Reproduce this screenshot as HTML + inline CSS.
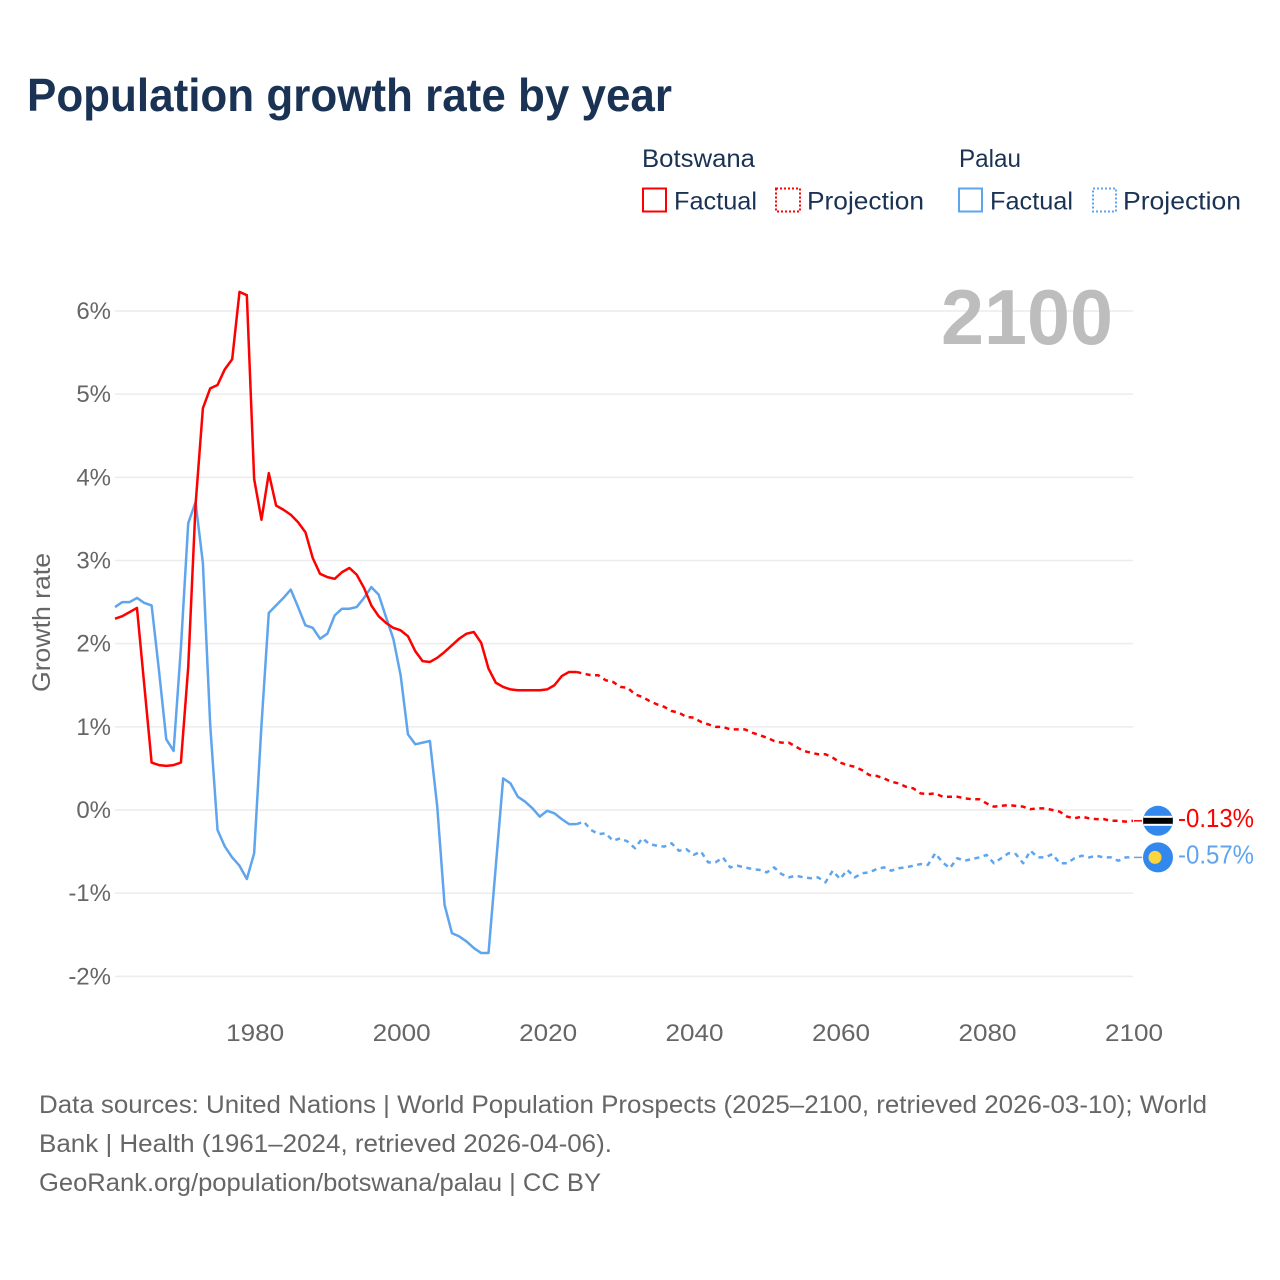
<!DOCTYPE html>
<html lang="en">
<head>
<meta charset="utf-8">
<title>Population growth rate by year</title>
<style>
  html, body { margin: 0; padding: 0; background: #fff; }
  svg { display: block; font-family: "Liberation Sans", sans-serif; }
  .legend-text { fill: #1a3354; font-size: 25px; }
  .foot { fill: #666; font-size: 25px; }
  .tick { fill: #666; font-size: 24px; }
</style>
</head>
<body>
<svg id="chart" xmlns="http://www.w3.org/2000/svg" width="1280" height="1280" viewBox="0 0 1280 1280">
  <rect x="0" y="0" width="1280" height="1280" fill="#fff"/>
  <text x="27" y="111" font-size="46" font-weight="700" fill="#1a3354" textLength="645" lengthAdjust="spacingAndGlyphs">Population growth rate by year</text>

  <g>
    <text class="legend-text" x="642" y="167" textLength="113" lengthAdjust="spacingAndGlyphs">Botswana</text>
    <rect x="643" y="188.5" width="23" height="23" fill="none" stroke="#ff0000" stroke-width="2"/>
    <text class="legend-text" x="674" y="209.5" textLength="83" lengthAdjust="spacingAndGlyphs">Factual</text>
    <rect x="776" y="188.5" width="24" height="23" fill="none" stroke="#ff0000" stroke-width="2" stroke-dasharray="2 2"/>
    <text class="legend-text" x="807" y="209.5" textLength="117" lengthAdjust="spacingAndGlyphs">Projection</text>
    <text class="legend-text" x="959" y="167" textLength="62" lengthAdjust="spacingAndGlyphs">Palau</text>
    <rect x="959" y="188.5" width="23" height="23" fill="none" stroke="#5fa5ee" stroke-width="2"/>
    <text class="legend-text" x="990" y="209.5" textLength="83" lengthAdjust="spacingAndGlyphs">Factual</text>
    <rect x="1093" y="188.5" width="23" height="23" fill="none" stroke="#5fa5ee" stroke-width="2" stroke-dasharray="2 2"/>
    <text class="legend-text" x="1123" y="209.5" textLength="118" lengthAdjust="spacingAndGlyphs">Projection</text>
  </g>

  <g id="grid"></g>
  <g id="yticks"></g>
  <g id="xticks"></g>
  <text transform="translate(50 622.5) rotate(-90)" text-anchor="middle" font-size="25" fill="#666" textLength="139" lengthAdjust="spacingAndGlyphs">Growth rate</text>
  <text x="941" y="344" font-size="78" font-weight="700" fill="#bdbdbd" textLength="172" lengthAdjust="spacingAndGlyphs">2100</text>
  <g id="series"></g>
  <g id="endmarks"></g>

  <g>
    <text class="foot" x="39" y="1113" textLength="1168" lengthAdjust="spacingAndGlyphs">Data sources: United Nations | World Population Prospects (2025–2100, retrieved 2026-03-10); World</text>
    <text class="foot" x="39" y="1152" textLength="573" lengthAdjust="spacingAndGlyphs">Bank | Health (1961–2024, retrieved 2026-04-06).</text>
    <text class="foot" x="39" y="1191" textLength="562" lengthAdjust="spacingAndGlyphs">GeoRank.org/population/botswana/palau | CC BY</text>
  </g>
</svg>

<script>
const factualStartYear = 1961;
const projectionStartYear = 2024;
const yTickValues = [6, 5, 4, 3, 2, 1, 0, -1, -2];
const yTickLabels = ['6%', '5%', '4%', '3%', '2%', '1%', '0%', '-1%', '-2%'];
const xTickYears = [1980, 2000, 2020, 2040, 2060, 2080, 2100];
const xTickLabels = ['1980', '2000', '2020', '2040', '2060', '2080', '2100'];

const botswanaFactual = [
  2.30, 2.33, 2.38, 2.43, 1.50, 0.57, 0.54, 0.53, 0.54, 0.57,
  1.72, 3.67, 4.83, 5.07, 5.11, 5.30, 5.42, 6.23, 6.19, 3.98,
  3.49, 4.05, 3.66, 3.61, 3.55, 3.46, 3.34, 3.03, 2.84, 2.80,
  2.78, 2.86, 2.91, 2.83, 2.67, 2.46, 2.33, 2.25, 2.19, 2.16,
  2.09, 1.91, 1.79, 1.78, 1.83, 1.90, 1.98, 2.06, 2.12, 2.14,
  2.01, 1.70, 1.53, 1.48, 1.45, 1.44, 1.44, 1.44, 1.44, 1.45,
  1.50, 1.61, 1.66, 1.66
];
const botswanaProjection = [
  1.66, 1.64, 1.62, 1.62, 1.56, 1.54, 1.48, 1.47, 1.39, 1.36,
  1.31, 1.27, 1.24, 1.19, 1.17, 1.12, 1.11, 1.06, 1.03, 1.00,
  1.00, 0.97, 0.97, 0.97, 0.93, 0.90, 0.87, 0.83, 0.81, 0.81,
  0.76, 0.71, 0.69, 0.67, 0.67, 0.63, 0.57, 0.54, 0.52, 0.48,
  0.42, 0.41, 0.38, 0.34, 0.32, 0.28, 0.26, 0.20, 0.19, 0.20,
  0.16, 0.16, 0.16, 0.14, 0.13, 0.13, 0.08, 0.04, 0.05, 0.06,
  0.05, 0.04, 0.01, 0.02, 0.02, 0.00, -0.02, -0.08, -0.10, -0.08,
  -0.10, -0.11, -0.11, -0.13, -0.13, -0.14, -0.13
];
const palauFactual = [
  2.44, 2.50, 2.50, 2.55, 2.49, 2.46, 1.68, 0.85, 0.71, 1.95,
  3.45, 3.70, 2.97, 1.02, -0.24, -0.44, -0.57, -0.67, -0.83, -0.52,
  1.02, 2.37, 2.46, 2.55, 2.65, 2.44, 2.22, 2.19, 2.06, 2.12,
  2.34, 2.42, 2.42, 2.44, 2.55, 2.68, 2.59, 2.32, 2.06, 1.62,
  0.91, 0.79, 0.81, 0.83, 0.04, -1.14, -1.48, -1.52, -1.58, -1.66,
  -1.72, -1.72, -0.67, 0.38, 0.32, 0.16, 0.10, 0.02, -0.08, -0.01,
  -0.04, -0.11, -0.17, -0.17
];
const palauProjection = [
  -0.17, -0.14, -0.24, -0.29, -0.28, -0.37, -0.34, -0.38, -0.46, -0.34,
  -0.41, -0.43, -0.44, -0.40, -0.49, -0.47, -0.54, -0.50, -0.63, -0.63,
  -0.57, -0.69, -0.67, -0.69, -0.71, -0.72, -0.75, -0.69, -0.77, -0.81,
  -0.79, -0.81, -0.82, -0.81, -0.87, -0.73, -0.83, -0.72, -0.81, -0.76,
  -0.75, -0.71, -0.69, -0.73, -0.70, -0.69, -0.67, -0.65, -0.66, -0.52,
  -0.63, -0.70, -0.58, -0.61, -0.59, -0.57, -0.54, -0.64, -0.58, -0.52,
  -0.53, -0.64, -0.49, -0.57, -0.57, -0.53, -0.64, -0.64, -0.58, -0.55,
  -0.57, -0.55, -0.57, -0.57, -0.61, -0.57, -0.57
];

const RED = '#ff0000';
const BLUE = '#5fa5ee';
const NS = 'http://www.w3.org/2000/svg';

function xScale(year) {
  return 115 + (year - 1961) * (1133 - 115) / 139;
}
function yScale(value) {
  return 810 - value * 83.17;
}
function make(tag, parent) {
  const el = document.createElementNS(NS, tag);
  parent.appendChild(el);
  return el;
}
function pathFrom(values, startYear) {
  return values.map(function (v, i) {
    return (i ? 'L' : 'M') + xScale(startYear + i).toFixed(2) + ' ' + yScale(v).toFixed(2);
  }).join(' ');
}

const gridGroup = document.getElementById('grid');
const yTickGroup = document.getElementById('yticks');
const xTickGroup = document.getElementById('xticks');
const seriesGroup = document.getElementById('series');
const endGroup = document.getElementById('endmarks');

yTickValues.forEach(function (v, i) {
  const line = make('line', gridGroup);
  
  
  line.setAttribute('x1', 115);
  line.setAttribute('x2', 1133);
  line.setAttribute('y1', yScale(v));
  line.setAttribute('y2', yScale(v));
  line.setAttribute('stroke', '#ececec');
  line.setAttribute('stroke-width', 1.5);

  const label = make('text', yTickGroup);
  
  
  label.setAttribute('class', 'tick');
  label.setAttribute('x', 111);
  label.setAttribute('y', yScale(v) + 8);
  label.setAttribute('text-anchor', 'end');
  label.textContent = yTickLabels[i];
});

xTickYears.forEach(function (year, i) {
  const label = make('text', xTickGroup);
  
  
  label.setAttribute('class', 'tick');
  label.setAttribute('x', xScale(year) + 1);
  label.setAttribute('y', 1041);
  label.setAttribute('text-anchor', 'middle');
  label.setAttribute('textLength', 58);
  label.setAttribute('lengthAdjust', 'spacingAndGlyphs');
  label.textContent = xTickLabels[i];
});

function drawLine(values, startYear, color, dashed, name) {
  const p = make('path', seriesGroup);
  
  
  p.setAttribute('d', pathFrom(values, startYear));
  p.setAttribute('fill', 'none');
  p.setAttribute('stroke', color);
  p.setAttribute('stroke-width', 2.5);
  p.setAttribute('stroke-linejoin', 'round');
  if (dashed) p.setAttribute('stroke-dasharray', '5 4.5');
}
drawLine(palauFactual, factualStartYear, BLUE, false, 'palau-factual-line');
drawLine(palauProjection, projectionStartYear, BLUE, true, 'palau-projection-line');
drawLine(botswanaFactual, factualStartYear, RED, false, 'botswana-factual-line');
drawLine(botswanaProjection, projectionStartYear, RED, true, 'botswana-projection-line');

function drawEnd(values, color, flagName, labelName, isBotswana) {
  const last = values[values.length - 1];
  const cy = yScale(last);

  const lead = make('line', endGroup);
  
  
  lead.setAttribute('x1', 1134);
  lead.setAttribute('x2', 1142);
  lead.setAttribute('y1', cy);
  lead.setAttribute('y2', cy);
  lead.setAttribute('stroke', color);
  lead.setAttribute('stroke-width', 1.5);

  const disc = make('circle', endGroup);
  
  
  disc.setAttribute('cx', 1158);
  disc.setAttribute('cy', cy);
  disc.setAttribute('r', 15);
  disc.setAttribute('fill', '#3388ee');

  if (isBotswana) {
    const halfWhite = Math.sqrt(15 * 15 - 5 * 5);
    const white = make('rect', endGroup);
    
    
    white.setAttribute('x', 1158 - halfWhite);
    white.setAttribute('y', cy - 5);
    white.setAttribute('width', halfWhite * 2);
    white.setAttribute('height', 10);
    white.setAttribute('fill', '#fff');
    const black = make('rect', endGroup);
    
    
    black.setAttribute('x', 1158 - 14.7);
    black.setAttribute('y', cy - 3);
    black.setAttribute('width', 29.4);
    black.setAttribute('height', 6);
    black.setAttribute('fill', '#000');
  } else {
    const moon = make('circle', endGroup);
    
    
    moon.setAttribute('cx', 1155);
    moon.setAttribute('cy', cy);
    moon.setAttribute('r', 6.5);
    moon.setAttribute('fill', '#ffd53d');
  }

  const label = make('text', endGroup);
  
  
  label.setAttribute('x', 1178);
  label.setAttribute('y', cy + 6);
  label.setAttribute('font-size', 26);
  label.setAttribute('fill', color);
  label.setAttribute('textLength', 76);
  label.setAttribute('lengthAdjust', 'spacingAndGlyphs');
  label.textContent = last.toFixed(2) + '%';
}
drawEnd(botswanaProjection, RED, 'botswana-flag', 'botswana-end-value', true);
drawEnd(palauProjection, BLUE, 'palau-flag', 'palau-end-value', false);
</script>
</body>
</html>
